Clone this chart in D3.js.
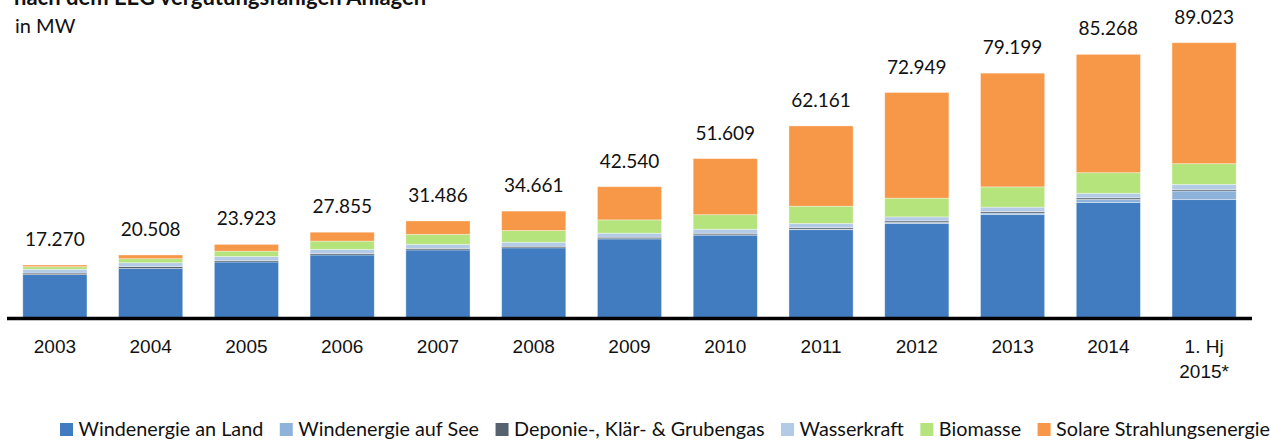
<!DOCTYPE html>
<html><head><meta charset="utf-8">
<script src="https://cdn.jsdelivr.net/npm/d3@7"></script>
<style>
html,body{margin:0;padding:0;background:#fff;}
svg{display:block;font-family:Lato,"Open Sans",sans-serif;}
</style></head>
<body>
<svg id="chart" width="1271" height="443"></svg>
<script>
const categories = ["2003","2004","2005","2006","2007","2008","2009","2010","2011","2012","2013","2014","1. Hj|2015*"];
const totals = [17270,20508,23923,27855,31486,34661,42540,51609,62161,72949,79199,85268,89023];
const solar    = [550,1200,2170,2850,4300,6250,10700,18100,25900,34100,36700,38200,39050];
const biomasse = [850,1300,1750,2700,3250,3800,4300,4700,5600,6050,6550,6650,6700];
const wasser   = [1200,1250,1250,1300,1300,1300,1300,1300,1300,1300,1400,1450,1600];
const gas      = [500,600,500,500,500,500,500,500,500,500,500,500,500];
const offshore = [0,0,0,0,0,0,35,80,190,280,520,1000,2800];
const onshore  = totals.map((t,i)=>t-solar[i]-biomasse[i]-wasser[i]-gas[i]-offshore[i]);
const seriesNames = ["Windenergie an Land","Windenergie auf See","Deponie-, Klär- & Grubengas","Wasserkraft","Biomasse","Solare Strahlungsenergie"];
const seriesColors = ["#407cbf","#8fb2da","#56636e","#b3cbe6","#b6e47c","#f79748"];
const seriesData = [onshore, offshore, gas, wasser, biomasse, solar];

const svg = d3.select("#chart");
const x = d3.scaleBand().domain(categories).range([7,1252]).paddingInner(0.33).paddingOuter(0.165);
const y = d3.scaleLinear().domain([0,90000]).range([318.5, 318.5-90000/322.8]);

const rows = categories.map((c,i)=>{const r={cat:c}; seriesNames.forEach((n,k)=>r[n]=seriesData[k][i]); return r;});
const stack = d3.stack().keys(seriesNames)(rows);

svg.append("g").selectAll("g").data(stack).join("g")
  .attr("fill",(d,k)=>seriesColors[k])
  .selectAll("rect").data(d=>d).join("rect")
  .attr("x",d=>x(d.data.cat))
  .attr("width",x.bandwidth())
  .attr("y",d=>y(d[1]))
  .attr("height",d=>Math.max(0,y(d[0])-y(d[1])))
  .attr("stroke","#ffffff").attr("stroke-opacity",0.45).attr("stroke-width",0.8);

// totals
svg.append("g").selectAll("text").data(categories).join("text")
  .attr("x",d=>x(d)+x.bandwidth()/2)
  .attr("y",(d,i)=>y(totals[i])-19)
  .attr("text-anchor","middle").attr("font-size",19).attr("fill","#111")
  .text((d,i)=>d3.format(",")(totals[i]).replace(/,/g,"."));

// axis
const xAxis = d3.axisBottom(x).tickSize(0).tickFormat("");
const ax = svg.append("g").attr("transform","translate(0,318.5)").call(xAxis);
ax.select(".domain").attr("stroke","#000").attr("stroke-width",3.5).attr("d","M7,0H1252");
ax.selectAll(".tick").each(function(d){
  const lines = d.split("|");
  const t = d3.select(this).append("text").attr("text-anchor","middle").attr("font-size",19).attr("fill","#111");
  lines.forEach((l,j)=>t.append("tspan").attr("x",0).attr("y",34+j*25).text(l));
});

// title
svg.append("text").attr("x",14).attr("y",5).attr("font-size",22).attr("font-weight","bold").attr("fill","#111")
  .text("nach dem EEG vergütungsfähigen Anlagen");
svg.append("text").attr("x",15).attr("y",33).attr("font-size",20).attr("fill","#111").text("in MW");

// legend
const lg = svg.append("g");
let lx = 60;
seriesNames.forEach((n,k)=>{
  lg.append("rect").attr("x",lx).attr("y",423).attr("width",13).attr("height",13).attr("fill",seriesColors[k]);
  const t = lg.append("text").attr("x",lx+18.5).attr("y",436).attr("font-size",19.8).attr("fill","#111").text(n);
  lx += 18.5 + t.node().getComputedTextLength() + 16.5;
});
</script>
</body></html>
